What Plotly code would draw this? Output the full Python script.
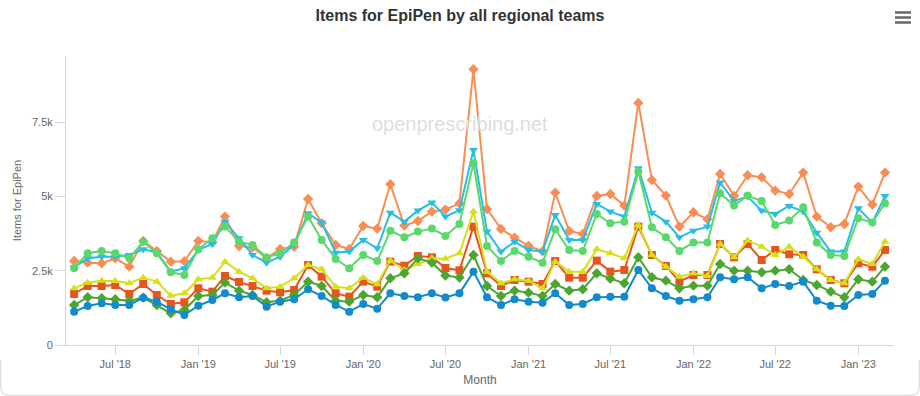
import plotly.graph_objects as go
import pandas as pd

months = pd.date_range("2018-04-01", "2023-03-01", freq="MS")

midlands = [2827, 2771, 2749, 2917, 2637, 3500, 3164, 2805, 2816, 3500, 3456, 4320, 3332, 3287, 2917,
            3231, 3310, 4914, 4095, 3366, 3231, 4005, 3916, 5408, 4017, 4174, 4488, 4555, 4768, 9279,
            4578, 3905, 3613, 3332, 3153, 5128, 3837, 3736, 5015, 5083, 4690, 8146, 5554, 5027, 3983,
            4466, 4230, 5756, 5015, 5711, 5644, 5195, 5083, 5801, 4320, 3961, 4073, 5330, 4724, 5801]

south_east = [2620, 2917, 2973, 2973, 3029, 3220, 3119, 2468, 2580, 3198, 3400, 4151, 3590, 3029, 2771,
              2973, 3377, 4432, 4118, 3108, 3142, 3534, 3254, 4454, 4151, 4522, 4791, 4320, 4533, 6564,
              3815, 3142, 3478, 3198, 3142, 4376, 3534, 3534, 4746, 4488, 4320, 5947, 4454, 4151, 3624,
              3848, 3983, 5464, 4847, 4993, 4522, 4410, 4679, 4488, 3781, 3142, 3142, 4600, 4118, 5015]

london = [2581, 3086, 3164, 3086, 2917, 3478, 3086, 2446, 2356, 3220, 3590, 3983, 3478, 3366, 2951,
          3086, 3445, 4320, 3534, 2895, 2581, 3029, 2827, 3848, 3624, 3815, 3916, 3669, 4073, 6115,
          3332, 2827, 3164, 2973, 2771, 3893, 3198, 3164, 4410, 4095, 4151, 5834, 3961, 3624, 3164,
          3445, 3445, 5105, 4690, 5027, 4847, 4039, 4185, 4634, 3445, 3029, 2996, 4264, 4118, 4768]

north_west = [1717, 1986, 1986, 2020, 1717, 2053, 1683, 1380, 1436, 1907, 1795, 2323, 2121, 1986, 1829,
              1773, 1851, 2693, 2300, 1739, 1627, 2132, 1964, 2805, 2670, 2996, 2951, 2592, 2513, 3983,
              2412, 1986, 2188, 2132, 2053, 2827, 2266, 2266, 2839, 2468, 2525, 3983, 3029, 2659, 2132,
              2356, 2356, 3400, 2951, 3400, 2861, 3198, 3052, 3029, 2547, 2188, 2076, 2749, 2637, 3198]

east_england = [1907, 2098, 2165, 2154, 2076, 2266, 2132, 1661, 1739, 2210, 2266, 2805, 2468, 2244, 1907,
                1964, 2244, 2693, 2547, 1964, 1907, 2266, 2042, 2839, 2525, 2727, 2917, 2906, 3086, 4488,
                2468, 2076, 2210, 2165, 1907, 2805, 2468, 2468, 3220, 3086, 2917, 4039, 3029, 2637, 2300,
                2412, 2323, 3400, 2951, 3512, 3310, 3029, 3310, 2973, 2547, 2188, 2076, 2883, 2727, 3478]

north_east_yorks = [1346, 1605, 1571, 1537, 1492, 1593, 1346, 1066, 1178, 1649, 1683, 2098, 1829, 1683, 1436,
                    1492, 1683, 2132, 1986, 1492, 1459, 1683, 1605, 2244, 2412, 2917, 2771, 2340, 2272, 3029,
                    1986, 1649, 1829, 1762, 1649, 2053, 1829, 1874, 2412, 2233, 2076, 2951, 2278, 2165, 1907,
                    1997, 1997, 2727, 2502, 2502, 2446, 2502, 2547, 2188, 2020, 1795, 1605, 2210, 2132, 2637]

south_west = [1122, 1313, 1402, 1346, 1346, 1593, 1459, 1201, 1010, 1324, 1515, 1739, 1605, 1649, 1290,
              1459, 1537, 1874, 1649, 1346, 1122, 1380, 1223, 1739, 1649, 1605, 1739, 1599, 1739, 2468,
              1605, 1346, 1537, 1459, 1425, 1739, 1346, 1380, 1605, 1627, 1627, 2525, 1907, 1649, 1492,
              1537, 1605, 2278, 2210, 2278, 1907, 2053, 1986, 2132, 1492, 1324, 1313, 1683, 1717, 2165]

series = [
    ("Midlands", midlands, "#f98e55", "diamond", 8),
    ("South East", south_east, "#27bde5", "triangle-down", 8),
    ("London", london, "#5bd86b", "circle", 8),
    ("North West", north_west, "#e9531c", "square", 8),
    ("East of England", east_england, "#d6e01a", "triangle-up", 8),
    ("North East and Yorkshire", north_east_yorks, "#4ba52f", "diamond", 8),
    ("South West", south_west, "#128acb", "circle", 8),
]

fig = go.Figure()
for name, vals, color, sym, size in series:
    fig.add_trace(go.Scatter(
        x=months, y=vals, name=name, mode="lines+markers",
        line=dict(color=color, width=2),
        marker=dict(symbol=sym, size=size, color=color, line=dict(width=0)),
        showlegend=False,
    ))

axis_col = "#ccd6eb"
fig.update_layout(
    width=920, height=396,
    margin=dict(l=66, r=26, t=56, b=51, autoexpand=False),
    paper_bgcolor="white", plot_bgcolor="white",
    font=dict(family="Liberation Sans, Arial, sans-serif", color="#666666", size=11),
    title=dict(text="<b>Items for EpiPen by all regional teams</b>", x=0.5, xanchor="center",
               y=1 - 15 / 396, yanchor="middle", automargin=False,
               font=dict(size=16, color="#333333", family="Liberation Sans, Arial, sans-serif")),
    xaxis=dict(
        type="date", range=["2018-03-14", "2023-03-21"],
        tick0="2018-01-01", dtick="M6", tickformat="%b '%y",
        showgrid=False, showline=True, linecolor=axis_col, linewidth=1,
        ticks="outside", ticklen=9, tickcolor=axis_col, tickwidth=1,
        tickfont=dict(size=11, color="#666666"),
        title=dict(text="Month", font=dict(size=12, color="#666666"), standoff=6),
        zeroline=False, fixedrange=True, automargin=False,
    ),
    yaxis=dict(
        range=[0, 9724], tick0=0, dtick=2500, tickformat="~s",
        showgrid=False, showline=True, linecolor=axis_col, linewidth=1,
        ticks="outside", ticklen=10, tickcolor=axis_col, tickwidth=1,
        tickfont=dict(size=11, color="#666666"),
        title=dict(text="Items for EpiPen", font=dict(size=11, color="#666666"), standoff=8),
        zeroline=False, fixedrange=True, automargin=False,
    ),
    hovermode="x",
)

# watermark
fig.add_annotation(text="openprescribing.net", xref="paper", yref="paper",
                   x=(460 - 66) / 828, y=(345 - 111) / 289, showarrow=False,
                   font=dict(size=20, color="#dedede", family="Liberation Sans, Arial, sans-serif"))

# hamburger menu icon
for py in (12.5, 17.5, 22.5):
    yp = (345 - py) / 289
    fig.add_shape(type="line", xref="paper", yref="paper",
                  x0=(895 - 66) / 828, x1=(911 - 66) / 828, y0=yp, y1=yp,
                  line=dict(color="#666666", width=2.5))

# faint card border at the bottom
def px(xp):
    return (xp - 66) / 828

def py_(ypx):
    return (345 - ypx) / 289

path = (f"M {px(0.8)} {py_(360)} L {px(0.8)} {py_(387)} Q {px(0.8)} {py_(395.2)} {px(9)} {py_(395.2)} "
        f"L {px(911)} {py_(395.2)} Q {px(919.2)} {py_(395.2)} {px(919.2)} {py_(387)} L {px(919.2)} {py_(360)}")
fig.add_shape(type="path", xref="paper", yref="paper", path=path,
              line=dict(color="#e2e2e2", width=1.5))

fig.write_html("out.html", config={"displayModeBar": False},
               post_script="document.body.style.margin='0';document.body.style.overflow='hidden';")
